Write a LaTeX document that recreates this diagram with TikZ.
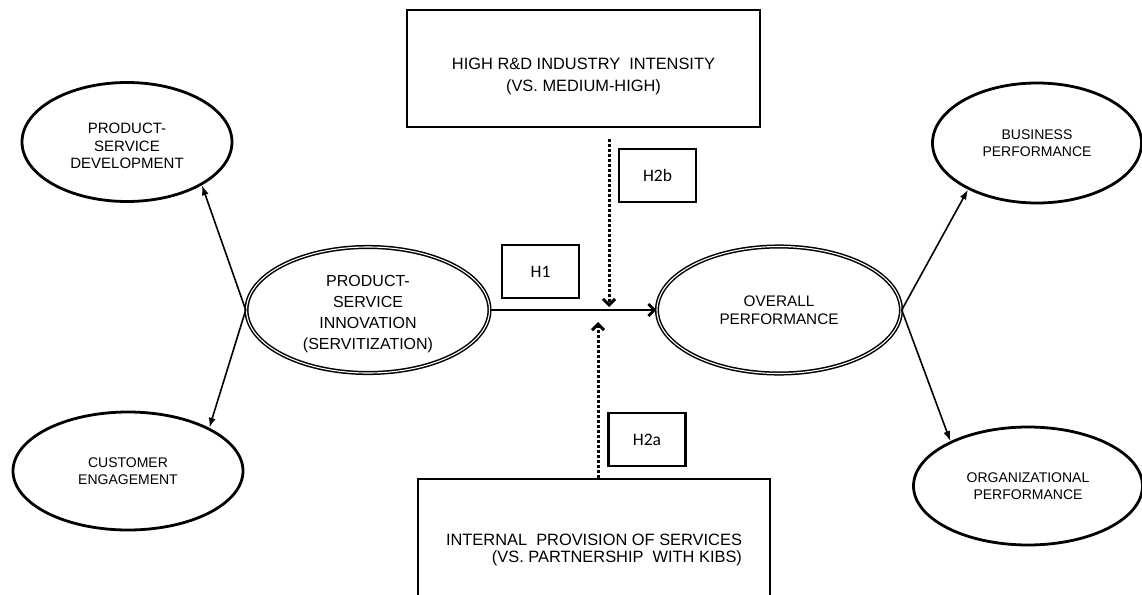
\documentclass[tikz,border=0pt]{standalone}
\usepackage{fontspec}
\setmainfont{Liberation Sans}
\newfontfamily\hypfont{Carlito}
\usepackage{tikz}
\usetikzlibrary{positioning}
\usetikzlibrary{shapes.geometric}
\usetikzlibrary{arrows.meta}
\tikzset{%
  e/.style = {ellipse,draw,line width=2.8pt,inner sep=0pt,align=center,
        font=\fontsize{14}{17.5}\selectfont},
  de/.style = {ellipse,draw,double,line width=1.5pt,double distance=1.1pt,
        inner sep=0pt,align=center},
  r/.style = {rectangle,draw,line width=2.8pt,inner sep=0pt},
  h/.style = {r,minimum width=77pt,minimum height=53pt,
        font=\hypfont\fontsize{17.5}{20}\selectfont},
  linkarrow/.style = {-{Latex[length=10pt,width=7pt]},line width=1.6pt},
  mainarrow/.style = {-{Straight Barb[length=6pt,width=12pt]},line width=2.8pt},
  modarrow/.style = {-{Straight Barb[length=6pt,width=12pt]},dotted,line width=3pt}
}
\begin{document}
\begin{tikzpicture}[x=1pt,y=-1pt]
    \useasboundingbox (0,0) rectangle (1142,594);
    % constructs
    \node[de, minimum width=243pt, minimum height=126pt, text height=82pt,
          font=\fontsize{16}{21}\selectfont] (psi) at (368,310)
          {PRODUCT-\\SERVICE\\INNOVATION\\(SERVITIZATION)};
    \node[de, minimum width=244pt, minimum height=127pt,
          font=\fontsize{15.3}{18}\selectfont] (op) [right=166pt of psi]
          {OVERALL\\PERFORMANCE};
    \node[e, minimum width=210pt, minimum height=119pt, text height=54pt,
          font=\fontsize{15}{17.5}\selectfont] (psd) at (127,142)
          {PRODUCT-\\SERVICE\\DEVELOPMENT};
    \node[e, minimum width=230pt, minimum height=118pt] (ce) at (128,471)
          {CUSTOMER\\ENGAGEMENT};
    \node[e, minimum width=209pt, minimum height=120pt] (bp) at (1037,143)
          {BUSINESS\\PERFORMANCE};
    \node[e, minimum width=229pt, minimum height=118pt] (orgp) at (1028,486)
          {ORGANIZATIONAL\\PERFORMANCE};

    % moderators
    \node[r, minimum width=353pt, minimum height=117pt, align=center,
          text height=50pt, font=\fontsize{16.4}{22}\selectfont] (rd) at (583.5,68.5)
          {HIGH R\&D INDUSTRY\ \ INTENSITY\\(VS. MEDIUM-HIGH)};
    \node[r, minimum width=352pt, minimum height=141pt, align=right,
          font=\fontsize{16.4}{17}\selectfont] (ips) at (594,549.5)
          {INTERNAL\ \ PROVISION OF SERVICES\\(VS. PARTNERSHIP\ \ WITH KIBS)};

    % hypotheses
    \node[h] (hone) at (540.5,271.5) {H1};
    \node[h] (htwob) at (657.5,175.5) {H2b};
    \node[h] (htwoa) at (647,439.5) {H2a};

    \coordinate (mb) at (609,310);
    \coordinate (ma) at (598,310);

    \draw[mainarrow] (psi) -- (op);
    \draw[linkarrow] (psi.west) -- (psd.-30);
    \draw[linkarrow] (psi.west) -- (ce.28);
    \draw[linkarrow] (op.east) -- (bp.-146);
    \draw[linkarrow] (op.east) -- (orgp.150);
    \draw[modarrow, shorten <=11pt, shorten >=3pt] (rd.south -| mb) -- (mb);
    \draw[modarrow, shorten >=12pt] (ips.north -| ma) -- (ma);
\end{tikzpicture}
\end{document}
